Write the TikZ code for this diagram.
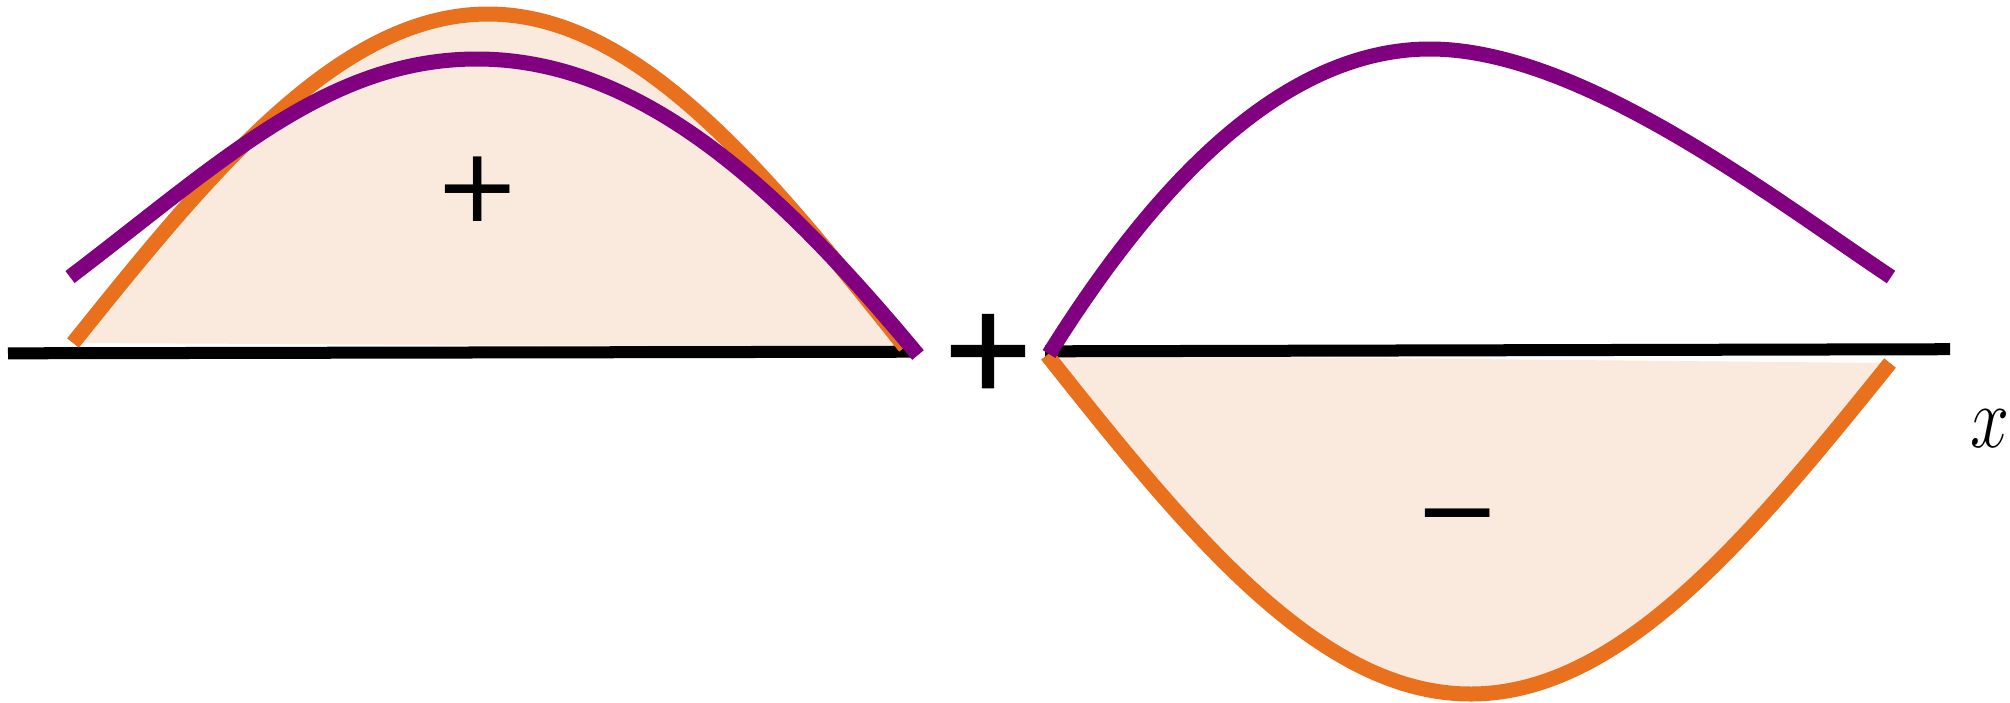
\documentclass[tikz,border=0pt]{standalone}
\usepackage{fontspec}
\newfontfamily\signfont{DejaVu Sans}
\newfontfamily\signfontheavy[FakeBold=2.5]{DejaVu Sans}
\definecolor{curveorange}{RGB}{233,113,30}
\definecolor{curvepurple}{RGB}{128,0,128}
\definecolor{lobefill}{RGB}{250,234,222}
\begin{document}
\begin{tikzpicture}[x=0.01cm,y=-0.01cm,
  curve/.style={line width=0.15cm},
  axisline/.style={line width=0.12cm, black},
  sign/.style={inner sep=0pt, font=\signfont\fontsize{29.3}{30}\selectfont}]
\useasboundingbox[fill=white] (0,0) rectangle (2010,702);
% shaded lobes
\fill[lobefill] plot[domain=73:905, samples=150] (\x,{343+0.004808*(\x-73)-331*sin(0.216346*(\x-73))}) -- cycle;
\fill[lobefill] plot[domain=1047:1890, samples=150] (\x,{355+0.00949*(\x-1047)+335*sin(0.213523*(\x-1047))}) -- cycle;
% axes
\coordinate (la) at (8,353.3);
\coordinate (lb) at (913,351.7);
\coordinate (ra) at (1045,351.3);
\coordinate (rb) at (1950,349.2);
\draw[axisline] (la) -- (lb);
\draw[axisline] (ra) -- (rb);
% orange curves
\draw[curve, curveorange] plot[domain=73:905, samples=150] (\x,{343+0.004808*(\x-73)-331*sin(0.216346*(\x-73))});
\draw[curve, curveorange] plot[domain=1047:1890, samples=150] (\x,{355+0.00949*(\x-1047)+335*sin(0.213523*(\x-1047))});
% purple curves
\coordinate (pLa) at (70,277);
\coordinate (pLtop) at (477,59);
\coordinate (pLb) at (918,355);
\coordinate (pRa) at (1049,354);
\coordinate (pRtop) at (1430,49);
\coordinate (pRb) at (1891,277);
\draw[curve, curvepurple] (pLa) .. controls (220,163) and (327,59) .. (pLtop)
  .. controls (647,59) and (788,199) .. (pLb);
\draw[curve, curvepurple] (pRa) .. controls (1139,210) and (1270,49) .. (pRtop)
  .. controls (1580,49) and (1771,197) .. (pRb);
% signs and label
\node[sign] (plusL) at (478,189) {+};
\node[sign, font=\signfontheavy\fontsize{32.5}{34}\selectfont] (plusM) at (988,351) {+};
\node[sign] (minusR) at (1458,527) {−};
\node[inner sep=0pt, font=\fontsize{24.4}{26}\selectfont] (xlab) at (1990,428.5) {\scalebox{0.8}[1]{$x$}};
\end{tikzpicture}
\end{document}
